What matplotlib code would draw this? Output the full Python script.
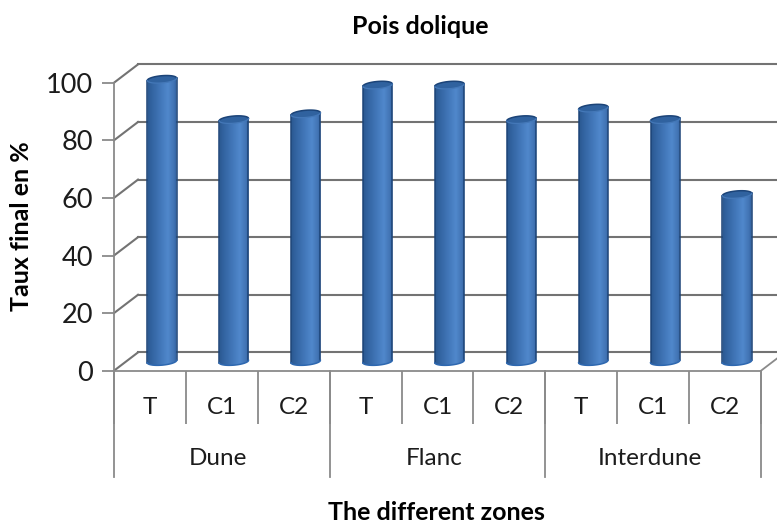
import numpy as np
import matplotlib
matplotlib.use("Agg")
import matplotlib.pyplot as plt
from matplotlib.colors import LinearSegmentedColormap
from matplotlib.patches import PathPatch
from matplotlib.path import Path

# --- data ---
conditions = ["T", "C1", "C2", "T", "C1", "C2", "T", "C1", "C2"]
zones = ["Dune", "Flanc", "Interdune"]
taux_final = [98, 84, 86, 96, 96, 84, 88, 84, 58]
y_ticks = [0, 20, 40, 60, 80, 100]

plt.rcParams["font.family"] = ["Lato", "DejaVu Sans"]
W, H = 777, 525
fig = plt.figure(figsize=(W / 100, H / 100), dpi=100)
L, R, B, T = 114, 761, 370.7, 82.7
ax = fig.add_axes([L / W, 1 - B / H, (R - L) / W, (B - T) / H])

n = len(taux_final)
px_x = (R - L) / n
px_y = (B - T) / 100
dx = 24 / px_x      # depth offset
dy = 18.3 / px_y
GRID = "#737373"
AX = "#8a8a8a"
TXT = "#1c1c1c"

# back wall and side wall
for v in y_ticks:
    ax.plot([dx, n + 0.3], [v + dy, v + dy], color=GRID, lw=1.5, clip_on=False, zorder=1)
    ax.plot([0, dx], [v, v + dy], color=GRID, lw=1.5, clip_on=False, zorder=1)
ax.plot([n, n + dx * 0.68], [0, dy * 0.68], color=AX, lw=1.3, clip_on=False, zorder=1)

# cylinders
cmap = LinearSegmentedColormap.from_list(
    "cyl", [(0, "#2a5890"), (0.15, "#3263a0"), (0.45, "#4277b9"), (0.7, "#5088cc"),
            (0.9, "#4274b4"), (1, "#2f5f9c")])
grad = np.linspace(0, 1, 128).reshape(1, -1)
bw = 29.3 / px_x
ry = 3.6 / px_y
tilt = 2.4 / px_y      # the ellipses rise to the right by this much over the bar width


def arc(cx, cy, t0, t1):
    t = np.linspace(t0, t1, 60)
    x = np.cos(t)
    y = np.sin(t)
    return np.column_stack([cx + x * bw / 2, cy + y * ry + x * tilt / 2])


for i, v in enumerate(taux_final):
    cx = i + 0.5 + dx / 2
    y0, y1 = dy / 2, v + dy / 2
    bottom = arc(cx, y0, 0, -np.pi)           # right to left along the base
    top = arc(cx, y1, np.pi, 0)               # left to right along the upper rim
    outline = np.vstack([bottom, top, bottom[:1]])
    shape = Path(outline, closed=True)
    body = PathPatch(shape, facecolor="none", edgecolor="none", zorder=3, clip_on=False)
    im = ax.imshow(grad, extent=[cx - bw / 2, cx + bw / 2, y0 - ry - tilt, y1 + ry + tilt],
                   cmap=cmap, aspect="auto", zorder=2)
    ax.add_patch(body)
    im.set_clip_box(fig.bbox)
    im.set_clip_path(body)
    # dark sides, lighter base edge
    for side in (bottom[-1:], bottom[:1]):
        sx = side[0, 0]
        sy0 = side[0, 1]
        sy1 = y1 + (sy0 - y0)
        ax.plot([sx, sx], [sy0, sy1], color="#1c4478", lw=1.1, zorder=4, clip_on=False)
    ax.plot(bottom[:, 0], bottom[:, 1], color="#2e68b0", lw=1.1, zorder=4, clip_on=False)
    # top face
    ell = arc(cx, y1, 0, 2 * np.pi)
    ax.add_patch(PathPatch(Path(ell, closed=True), facecolor="#30629f", edgecolor="none",
                           zorder=4, clip_on=False))
    ax.plot(top[:, 0], top[:, 1], color="#1c4478", lw=1.1, zorder=5, clip_on=False)
    front = arc(cx, y1, np.pi, 2 * np.pi)
    ax.plot(front[:, 0], front[:, 1], color="#4478b8", lw=0.9, zorder=5, clip_on=False)

ax.set_xlim(0, n)
ax.set_ylim(0, 100)

# axes
for s in ("top", "right"):
    ax.spines[s].set_visible(False)
for s in ("left", "bottom"):
    ax.spines[s].set_color(AX)
    ax.spines[s].set_linewidth(1.3)
ax.patch.set_alpha(0)
ax.set_yticks(y_ticks)
ax.tick_params(axis="y", length=9, width=1.3, color=AX, labelsize=19.5, pad=6, labelcolor=TXT)
ax.set_xticks(np.arange(0, n + 1))
ax.set_xticklabels([])
ax.tick_params(axis="x", which="major", length=38, width=1.3, color=AX)
ax.set_xticks(np.arange(n) + 0.5, minor=True)
ax.set_xticklabels(conditions, minor=True, fontsize=17.5, color=TXT)
ax.tick_params(axis="x", which="minor", length=0, pad=19)

# multi-level separators and zone labels
for x in range(0, n + 1, 3):
    ax.plot([x, x], [0, -106 / px_y], color=AX, lw=1.3, clip_on=False, zorder=1)
for j, z in enumerate(zones):
    ax.text(3 * j + 1.45, -88 / px_y, z, ha="center", va="center", fontsize=17.5, color=TXT)

for x, y, s, rot in [(420, 27, "Pois dolique", 0),
                     (436, 513, "The different zones", 0),
                     (22, 226, "Taux final en %", 90)]:
    fig.text(x / W, 1 - y / H, s, ha="center", va="center", rotation=rot, fontsize=18,
             fontweight="bold", color="black")

fig.savefig("out.png", dpi=100)
